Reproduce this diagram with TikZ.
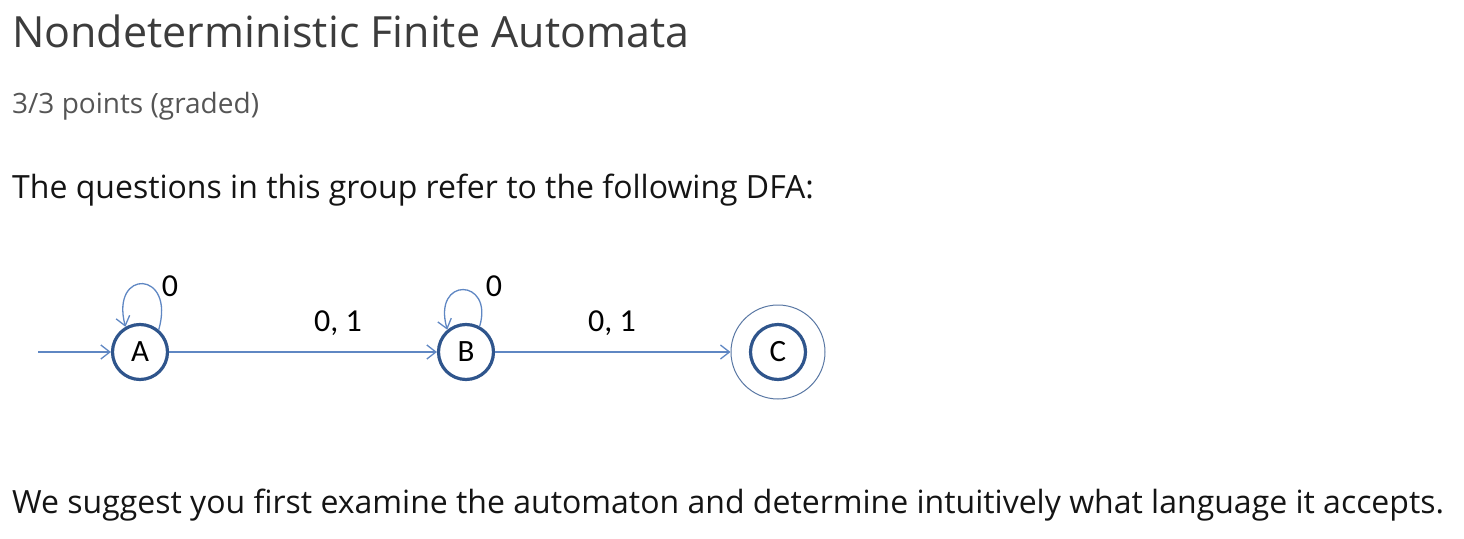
\documentclass[tikz,border=0pt]{standalone}
\usepackage{fontspec}
\setmainfont{Open Sans}
\newfontfamily\lblfont{Carlito}
\usetikzlibrary{arrows.meta}
\definecolor{statec}{RGB}{47,85,140}
\definecolor{edgec}{RGB}{95,135,195}
\definecolor{titlec}{RGB}{60,60,60}
\definecolor{subc}{RGB}{85,85,85}
\definecolor{bodyc}{RGB}{20,20,20}
\tikzset{
  state/.style={circle,draw=statec,line width=3.2pt,minimum size=55pt,inner sep=0pt,font=\lblfont\fontsize{31}{31}\selectfont},
  outerring/.style={circle,draw=statec!80,line width=1pt,minimum size=94pt,inner sep=0pt},
  edge/.style={draw=edgec,line width=1.3pt,-{Straight Barb[length=9pt,width=14pt,line width=1.3pt]}},
  elabel/.style={font=\lblfont\fontsize{32}{32}\selectfont,text=black,inner sep=0pt},
  txt/.style={anchor=base west,inner sep=0pt}
}
\begin{document}
\begin{tikzpicture}[x=1pt,y=-1pt]
\useasboundingbox (0,0) rectangle (1464,538);
\node[txt,text=titlec,font=\fontsize{43}{43}\selectfont] (title) at (12,47) {Nondeterministic Finite Automata};
\node[txt,text=subc,font=\fontsize{28}{28}\selectfont] (sub) at (12,113) {3/3 points (graded)};
\node[txt,text=bodyc,font=\fontsize{32}{32}\selectfont] (intro) at (12,198) {The questions in this group refer to the following DFA:};
\node[txt,text=bodyc,font=\fontsize{32}{32}\selectfont] (outro) at (12,513) {We suggest you first examine the automaton and determine intuitively what language it accepts.};
% states
\node[state] (A) at (140,352) {A};
\node[state] (B) at (466,352) {B};
\node[outerring] (Cout) at (778,352) {};
\node[state] (C) at (778,352) {C};
\coordinate (start) at (38,352);
% edges
\draw[edge] (start) -- (A);
\draw[edge] (A) -- (B);
\draw[edge] (B) -- (Cout);
\draw[edge] (A.50) .. controls (176,270) and (110,268) .. (A.120);
\draw[edge] (B.62) .. controls (494,278) and (432,276) .. (B.130);
% labels
\node[elabel] (lA) at (170,286) {0};
\node[elabel] (lB) at (494,286) {0};
\node[elabel] (lAB) at (338,323) {0, 1};
\node[elabel] (lBC) at (612,323) {0, 1};
\end{tikzpicture}
\end{document}
